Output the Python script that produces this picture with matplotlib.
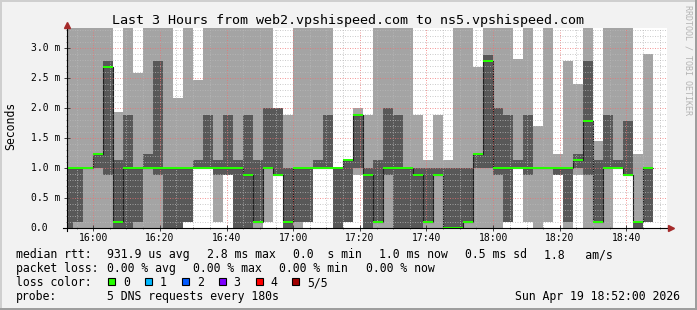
import numpy as np
import pandas as pd
import matplotlib
matplotlib.use('Agg')
import matplotlib.pyplot as plt
import matplotlib.dates as mdates
from matplotlib.patches import Rectangle
from matplotlib.transforms import Affine2D, blended_transform_factory, ScaledTranslation

W, H = 697, 310
TOP = 3.6   # slowest ping off the top of the chart

# one column every 3 minutes, 5 DNS pings per column, sorted (ms)
step_start = '2026-04-19 15:51'
ping1 = [0.0, 0.0, 0.0, 0.0, 0.0, 0.0, 0.0, 0.0, 0.0, 0.0,
         0.0, 0.0, 0.11, 1.0, 1.0, 0.11, 0.89, 0.0, 0.0, 0.0,
         0.11, 0.89, 0.0, 0.0, 0.11, 1.0, 1.0, 0.0, 0.11, 0.89,
         0.0, 0.0, 0.0, 0.0, 0.0, 0.0, 0.0, 0.0, 0.0, 0.0,
         0.0, 0.0, 0.0, 0.0, 0.11, 1.0, 0.11, 0.0, 0.11, 0.89,
         0.0, 0.89, 0.0, 0.0, 0.0, 1.0, 0.89, 0.0, 0.11]
ping2 = [0.0, 0.11, 1.0, 1.0, 0.89, 0.0, 0.0, 0.11, 1.0, 0.89,
         0.0, 0.0, 0.11, 1.0, 1.0, 0.89, 0.89, 0.0, 0.0, 0.11,
         1.0, 0.89, 0.0, 0.11, 0.11, 1.0, 1.0, 0.0, 0.11, 1.0,
         0.0, 0.11, 0.89, 0.0, 0.0, 0.0, 0.11, 0.89, 0.0, 0.0,
         0.11, 1.0, 1.0, 0.89, 0.11, 1.0, 0.89, 1.0, 1.0, 0.89,
         0.11, 1.0, 0.89, 0.11, 1.0, 1.0, 0.89, 0.0, 0.11]
ping3 = [1.0, 1.0, 1.0, 1.24, 2.68, 0.11, 1.0, 1.0, 1.0, 1.0,
         1.0, 1.0, 1.0, 1.0, 1.0, 1.0, 1.0, 1.0, 0.89, 0.11,
         1.0, 0.89, 0.11, 1.0, 1.0, 1.0, 1.0, 1.0, 1.13, 1.89,
         0.89, 0.11, 1.0, 1.0, 1.0, 0.89, 0.11, 0.89, 0.0, 0.0,
         0.11, 1.24, 2.78, 1.0, 1.0, 1.0, 1.0, 1.0, 1.0, 1.0,
         1.0, 1.13, 1.78, 0.11, 1.0, 1.0, 0.89, 0.11, 1.0]
ping4 = [1.0, 1.0, 1.0, 1.24, 2.79, 1.13, 1.89, 1.0, 1.24, 2.79,
         1.0, 1.0, 1.0, 1.13, 1.89, 1.13, 1.89, 1.13, 1.89, 1.13,
         2.0, 2.0, 1.0, 1.0, 1.0, 1.13, 1.89, 1.0, 1.13, 1.89,
         1.0, 1.13, 2.0, 1.89, 1.0, 1.0, 1.0, 1.0, 1.0, 1.0,
         1.0, 1.24, 2.89, 2.0, 1.89, 1.13, 1.89, 1.0, 1.0, 1.0,
         1.0, 1.24, 2.78, 1.13, 1.89, 1.13, 1.78, 0.11, 1.0]
ping5 = [TOP, TOP, TOP, TOP, TOP, 1.94, TOP, 2.59, TOP, TOP,
         TOP, 2.17, TOP, 2.47, TOP, TOP, TOP, TOP, TOP, TOP,
         TOP, 2.0, 1.89, TOP, TOP, TOP, TOP, 1.0, 1.13, 2.0,
         1.89, TOP, TOP, TOP, TOP, 1.89, 1.13, 1.89, 1.13, TOP,
         TOP, 2.68, TOP, TOP, TOP, 2.82, TOP, 1.71, TOP, 1.24,
         2.78, 2.41, TOP, 1.46, TOP, TOP, TOP, 1.24, 2.91]

ytick_vals = [0.0, 0.5, 1.0, 1.5, 2.0, 2.5, 3.0]
ytick_labels = ['0.0', '0.5 m', '1.0 m', '1.5 m', '2.0 m', '2.5 m', '3.0 m']

title = 'Last 3 Hours from web2.vpshispeed.com to ns5.vpshispeed.com'
rtt_fields = ['median rtt:', '931.9 us avg', '2.8 ms max', '0.0  s min',
              '1.0 ms now', '0.5 ms sd', '1.8   am/s']
loss_fields = ['packet loss:', '0.00 % avg', '0.00 % max', '0.00 % min', '0.00 % now']
loss_names = ['0', '1', '2', '3', '4', '5/5']
loss_colors = ['#26ff00', '#00b8ff', '#0059ff', '#7e00ff', '#ff0000', '#a10000']
probe_fields = ['probe:', '5 DNS requests every 180s']
stamp = 'Sun Apr 19 18:52:00 2026'

plt.rcParams['font.family'] = 'DejaVu Sans Mono'

n = len(ping3)
edges = pd.date_range(step_start, periods=n + 1, freq='3min')
x = mdates.date2num(edges.to_pydatetime())


def ext(a):
    a = np.asarray(a, dtype=float)
    return np.append(a, a[-1])


p1, p2, p3, p4, p5 = (ext(p) for p in (ping1, ping2, ping3, ping4, ping5))

fig = plt.figure(figsize=(W / 100, H / 100), dpi=100, facecolor='#f2f2f2')
pix = Affine2D().scale(1 / W, -1 / H).translate(0, 1) + fig.transFigure

ax = fig.add_axes([66.5 / W, (H - 228.3) / H, 600 / W, 200.3 / H])
ax.set_facecolor('white')

# smoke: outer pair light, inner pair dark
ax.fill_between(x, p1, p5, step='post', color='#a4a4a4', lw=0, zorder=1)
ax.fill_between(x, p2, p4, step='post', color='#585858', lw=0, zorder=1.1)
ax.step(x, p3, where='post', color='#202020', lw=0.8, zorder=1.2)
sw = 1 / 60
ax.fill_between(x, p3 - sw, p3 + sw, step='post', color=loss_colors[0], lw=0, zorder=3)

ax.set_xlim(mdates.date2num(pd.Timestamp('2026-04-19 15:52')),
            mdates.date2num(pd.Timestamp('2026-04-19 18:52')))
ax.set_ylim(0, 3.338)

ax.xaxis.set_major_locator(mdates.MinuteLocator(byminute=[0, 20, 40]))
ax.xaxis.set_minor_locator(mdates.MinuteLocator(byminute=range(0, 60, 5)))
ax.xaxis.set_major_formatter(mdates.DateFormatter('%H:%M'))
ax.set_yticks(ytick_vals)
ax.set_yticks(np.arange(0, 3.35, 0.1), minor=True)
ax.tick_params(axis='y', labelleft=False)

ax.set_axisbelow(False)
ax.grid(which='major', color='#f07070', alpha=0.7, lw=0.72, ls=(0, (1, 1.5)))
ax.grid(which='minor', color='#b8b8b8', alpha=0.7, lw=0.72, ls=(0, (1, 1.5)))
ax.tick_params(which='major', direction='inout', length=4, width=0.7, color='#404040',
               labelsize=7, pad=1.5)
ax.tick_params(which='minor', direction='inout', length=2, width=0.7, color='#808080')

for s in ax.spines.values():
    s.set_visible(False)
ax.plot([-0.006, 1.004], [0, 0], transform=ax.transAxes, color='black', lw=0.8, clip_on=False, zorder=5)
ax.plot([0, 0], [-0.012, 1.01], transform=ax.transAxes, color='black', lw=0.8, clip_on=False, zorder=5)
ax.plot([1.008], [0], transform=ax.transAxes, marker='>', ms=4.5, color='#a52a2a', clip_on=False, zorder=6)
ax.plot([0], [1.016], transform=ax.transAxes, marker='^', ms=4.5, color='#a52a2a', clip_on=False, zorder=6)

# y tick labels, left aligned like rrdtool
ylab_tr = blended_transform_factory(fig.transFigure, ax.transData) + \
    ScaledTranslation(0, -3 / 100, fig.dpi_scale_trans)
for v, lbl in zip(ytick_vals, ytick_labels):
    ax.text(30.7 / W, v, lbl, transform=ylab_tr, ha='left', va='baseline', fontsize=7)

fig.text(348.5, 24, title, transform=pix, ha='center', va='baseline', fontsize=9.6)
fig.text(10.5, 126, 'Seconds', transform=pix, rotation=90, ha='center', va='center', fontsize=8.3)
fig.text(688, 60, 'RRDTOOL / TOBI OETIKER', transform=pix, rotation=270, ha='center',
         va='center', fontsize=6, color='#b4b4b4')

fs = 8.3
for s, xp in zip(rtt_fields, [16, 107.3, 207.3, 293.3, 379.3, 465, 544.3]):
    fig.text(xp, 258.3, s, transform=pix, ha='left', va='baseline', fontsize=fs)
for s, xp in zip(loss_fields, [16, 107.3, 193.3, 279.3, 366]):
    fig.text(xp, 272.3, s, transform=pix, ha='left', va='baseline', fontsize=fs)
fig.text(16, 286.3, 'loss color:', transform=pix, ha='left', va='baseline', fontsize=fs)
for k, (name, col) in enumerate(zip(loss_names, loss_colors)):
    bx = 108.3 + 36.8 * k
    fig.patches.append(Rectangle((bx, 278.3), 7, 7, transform=pix, facecolor=col,
                                 edgecolor='black', lw=0.8))
    fig.text(bx + 15, 286.3, name, transform=pix, ha='left', va='baseline', fontsize=fs)
for s, xp in zip(probe_fields, [16, 107.3]):
    fig.text(xp, 300.3, s, transform=pix, ha='left', va='baseline', fontsize=fs)
fig.text(680, 300.3, stamp, transform=pix, ha='right', va='baseline', fontsize=fs)

# frame shading
fig.patches.append(Rectangle((0, 0), W, 2, transform=pix, color='#cfcfcf', lw=0))
fig.patches.append(Rectangle((0, 0), 2, H, transform=pix, color='#cfcfcf', lw=0))
fig.patches.append(Rectangle((W - 2, 0), 2, H, transform=pix, color='#9e9e9e', lw=0))
fig.patches.append(Rectangle((0, H - 2), W, 2, transform=pix, color='#9e9e9e', lw=0))

fig.savefig('out.png', dpi=100, facecolor=fig.get_facecolor())
